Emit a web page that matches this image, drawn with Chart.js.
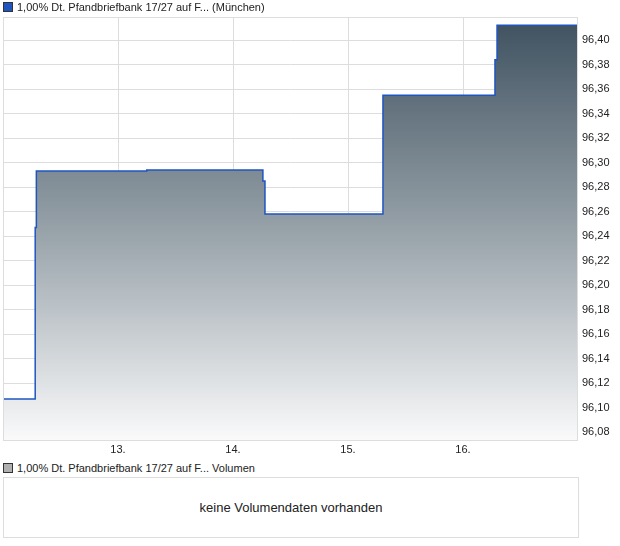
<!DOCTYPE html>
<html>
<head>
<meta charset="utf-8">
<script src="https://cdn.jsdelivr.net/npm/chart.js@4/dist/chart.umd.min.js"></script>
<style>
  body { margin: 0; background: #fff; font-family: "Liberation Sans", Arial, sans-serif; }
  .wrap { position: relative; width: 620px; height: 546px; }
  .legend { position: absolute; left: 3px; font-size: 11px; color: #222; line-height: 12px; white-space: nowrap; }
  .legend .box { display: inline-block; width: 8px; height: 8px; border: 1px solid #333; margin-right: 4px; vertical-align: -1px; }
  #chartBox { position: absolute; left: 0; top: 0; width: 620px; height: 460px; }
  .vol { position: absolute; left: 3px; top: 477px; width: 574px; height: 59px; border: 1px solid #ddd;
         font-size: 13px; color: #222; text-align: center; line-height: 59px; }
</style>
</head>
<body>
<div class="wrap">
  <div id="chartBox"><canvas id="price-chart" width="620" height="460"></canvas></div>
  <div class="legend" style="top:1px"><span class="box" style="background:#1f55c0"></span>1,00% Dt. Pfandbriefbank 17/27 auf F... (München)</div>
  <div class="legend" style="top:462px"><span class="box" style="background:#b0b0b0"></span>1,00% Dt. Pfandbriefbank 17/27 auf F... Volumen</div>
  <div class="vol">keine Volumendaten vorhanden</div>
</div>
<script>
// time in days (12.0 = start of day 12), price valid from that time on
const times = [12.0, 12.28, 12.29, 13.25, 14.26, 14.278, 15.304, 16.278, 16.296, 17.0]
const prices = [96.107, 96.247, 96.293, 96.294, 96.285, 96.258, 96.355, 96.384, 96.412, 96.412]
const dayTicks = [13, 14, 15, 16]
const priceTicks = [96.08, 96.10, 96.12, 96.14, 96.16, 96.18, 96.20, 96.22, 96.24, 96.26, 96.28, 96.30, 96.32, 96.34, 96.36, 96.38, 96.40]

const ctx = document.getElementById('price-chart')

const frame = {
  id: 'frame',
  afterDraw(chart) {
    const a = chart.chartArea
    const c = chart.ctx
    c.save()
    c.strokeStyle = '#dddddd'
    c.lineWidth = 1
    c.strokeRect(a.left + 0.5, a.top + 0.5, a.right - a.left - 1, a.bottom - a.top)
    c.restore()
  }
}

new Chart(ctx, {
  type: 'line',
  data: {
    datasets: [{
      label: 'Kurs',
      data: times.map((t, i) => ({ x: t, y: prices[i] })),
      stepped: true,
      borderColor: '#1f55c0',
      borderWidth: 1.5,
      pointRadius: 0,
      fill: 'start',
      backgroundColor: (c) => {
        const area = c.chart.chartArea
        if (!area) return 'rgba(0,0,0,0)'
        const g = c.chart.ctx.createLinearGradient(0, area.top, 0, area.bottom)
        g.addColorStop(0, 'rgb(62,80,95)')
        g.addColorStop(0.5, 'rgb(150,161,168)')
        g.addColorStop(1, 'rgb(250,250,251)')
        return g
      }
    }]
  },
  options: {
    responsive: false,
    animation: false,
    layout: { padding: { left: 3, top: 17, right: 0, bottom: 0 } },
    plugins: { legend: { display: false }, tooltip: { enabled: false } },
    scales: {
      x: {
        type: 'linear',
        min: 12,
        max: 17,
        afterBuildTicks: (s) => { s.ticks = dayTicks.map(v => ({ value: v })) },
        afterFit: (s) => { s.height = 20 },
        grid: { color: '#dddddd', drawTicks: false },
        border: { display: false },
        ticks: {
          padding: 3,
          color: '#222',
          font: { family: 'Liberation Sans', size: 11 },
          callback: (v) => v + '.'
        }
      },
      y: {
        position: 'right',
        min: 96.0735,
        max: 96.4188,
        afterBuildTicks: (s) => { s.ticks = priceTicks.map(v => ({ value: v })) },
        afterFit: (s) => { s.width = 42 },
        grid: { color: '#dddddd', drawTicks: false },
        border: { display: false },
        ticks: {
          padding: 4,
          color: '#222',
          font: { family: 'Liberation Sans', size: 11 },
          callback: (v) => v.toFixed(2).replace('.', ',')
        }
      }
    }
  },
  plugins: [frame]
})
</script>
</body>
</html>
